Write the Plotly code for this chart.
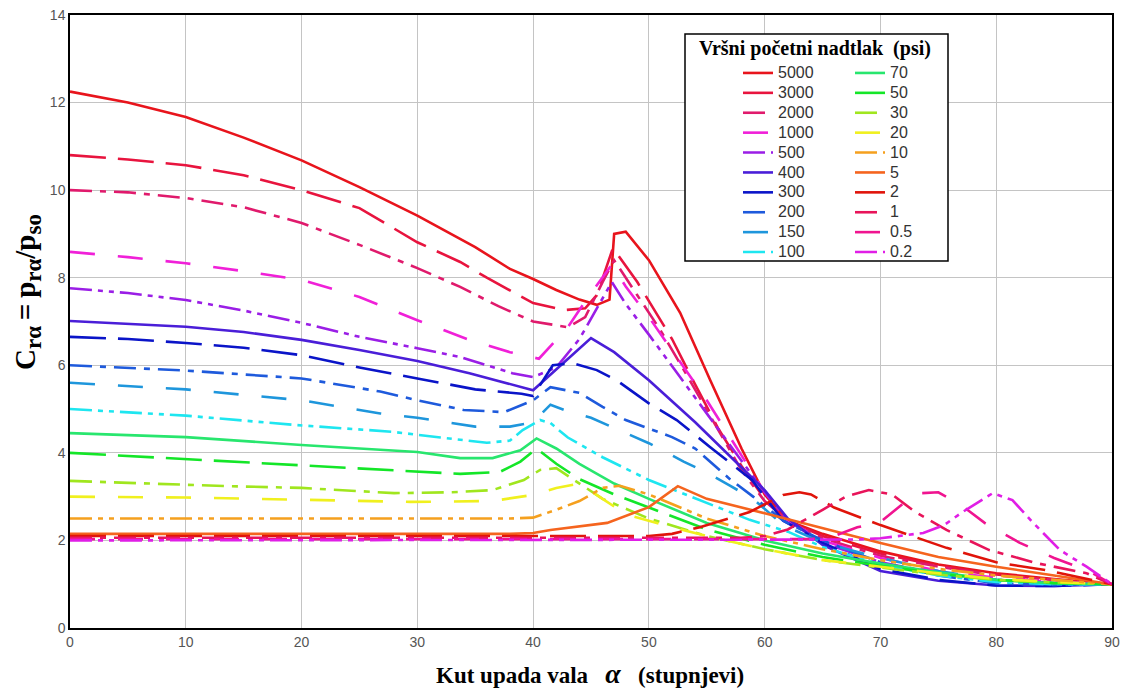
import plotly.graph_objects as go

# ---------------- data ----------------
LABELS = ["5000", "3000", "2000", "1000", "500", "400", "300", "200", "150", "100",
          "70", "50", "30", "20", "10", "5", "2", "1", "0.5", "0.2"]

X_5000 = [0, 5, 10, 15, 20, 25, 30, 35, 38, 40, 42, 44, 45.5, 46.6, 47, 48, 50, 52.7, 55.3, 58, 60, 62, 65, 70, 75, 80, 85, 90]
Y_5000 = [12.25, 12.0, 11.67, 11.2, 10.68, 10.07, 9.42, 8.7, 8.2, 7.97, 7.72, 7.5, 7.38, 7.5, 9.0, 9.05, 8.4, 7.2, 5.66, 4.1, 3.05, 2.45, 2.15, 1.75, 1.45, 1.25, 1.12, 1.0]

X_3000 = [0, 5, 10, 15, 20, 25, 30, 33.7, 36, 40, 42.7, 44.5, 45.5, 46.5, 46.9, 49, 52, 53.8, 56, 58, 60, 62, 65, 70, 75, 80, 85, 90]
Y_3000 = [10.8, 10.7, 10.57, 10.34, 10.0, 9.59, 8.81, 8.36, 8.0, 7.42, 7.26, 7.3, 7.6, 8.4, 8.68, 7.9, 6.6, 5.66, 4.55, 3.7, 2.95, 2.45, 2.1, 1.7, 1.42, 1.22, 1.1, 1.0]

X_2000 = [0, 5, 10, 15, 20, 25, 30, 33.7, 37, 40, 43, 44.5, 46, 47, 49, 51, 53, 56, 58, 60, 62, 65, 70, 75, 80, 85, 90]
Y_2000 = [10.0, 9.95, 9.82, 9.61, 9.25, 8.75, 8.22, 7.79, 7.35, 7.0, 6.87, 7.1, 7.9, 8.4, 7.6, 6.8, 5.9, 4.5, 3.6, 2.9, 2.45, 2.05, 1.65, 1.4, 1.2, 1.1, 1.0]

X_1000 = [0, 5, 10, 15, 20, 25, 30, 34.5, 38, 40.5, 43, 44.6, 46.8, 48, 50, 55, 60, 62, 65, 70, 75, 80, 85, 90]
Y_1000 = [8.59, 8.47, 8.33, 8.15, 7.95, 7.56, 7.03, 6.58, 6.3, 6.15, 6.87, 7.5, 8.3, 7.8, 7.1, 5.2, 3.1, 2.45, 2.0, 1.6, 1.3, 1.15, 1.05, 1.0]

X_500 = [0, 5, 10, 15, 20, 25, 30, 33.7, 38.2, 40, 42, 44, 46.8, 48, 50, 55, 60, 62, 65, 70, 75, 80, 85, 90]
Y_500 = [7.76, 7.65, 7.49, 7.25, 6.97, 6.65, 6.39, 6.19, 5.82, 5.73, 5.95, 6.6, 7.9, 7.4, 6.7, 4.9, 3.1, 2.45, 1.95, 1.5, 1.25, 1.1, 1.03, 1.0]

X_400 = [0, 5, 10, 15, 20, 25, 30, 34.5, 38.9, 40, 42.9, 45, 47, 50, 54, 57.6, 60, 62, 65, 70, 75, 80, 85, 90]
Y_400 = [7.01, 6.95, 6.88, 6.76, 6.58, 6.35, 6.1, 5.82, 5.5, 5.43, 6.12, 6.62, 6.3, 5.66, 4.7, 3.77, 3.15, 2.5, 1.9, 1.3, 1.08, 0.97, 0.96, 1.0]

X_300 = [0, 5, 10, 15, 20, 25, 30, 35, 39, 40, 41.7, 43.4, 45.5, 47.2, 50, 52.4, 55.3, 58.9, 61.6, 65, 70, 75, 80, 85, 90]
Y_300 = [6.65, 6.6, 6.51, 6.4, 6.23, 5.95, 5.7, 5.45, 5.35, 5.3, 6.0, 6.05, 5.89, 5.66, 5.13, 4.75, 4.13, 3.38, 2.45, 1.95, 1.35, 1.1, 0.97, 0.96, 1.0]

X_200 = [0, 10, 20, 26.8, 30, 34, 37.5, 40, 41.5, 44, 46, 48, 52, 54, 57, 59, 61.6, 65, 70, 75, 80, 85, 90]
Y_200 = [6.0, 5.88, 5.7, 5.4, 5.2, 4.98, 4.93, 5.2, 5.5, 5.37, 5.05, 4.75, 4.36, 4.1, 3.4, 3.0, 2.45, 2.0, 1.5, 1.2, 1.02, 0.98, 1.0]

X_150 = [0, 10, 20, 26.8, 30, 35, 38, 40, 41.5, 43, 45, 48, 50, 53, 55, 57, 59, 61.6, 65, 70, 75, 80, 85, 90]
Y_150 = [5.6, 5.45, 5.2, 4.9, 4.8, 4.6, 4.6, 4.7, 5.1, 4.95, 4.8, 4.45, 4.22, 3.8, 3.55, 3.25, 2.95, 2.35, 1.95, 1.6, 1.3, 1.1, 1.0, 1.0]

X_100 = [0, 10, 19.3, 27.9, 32, 36, 38, 39.1, 40.6, 41.5, 43, 46, 50, 54.4, 58.7, 62, 65, 70, 75, 80, 85, 90]
Y_100 = [5.0, 4.85, 4.64, 4.48, 4.35, 4.23, 4.28, 4.52, 4.75, 4.68, 4.35, 3.9, 3.38, 2.92, 2.47, 2.2, 1.85, 1.45, 1.2, 1.05, 1.0, 1.0]

X_70 = [0, 10, 20, 30, 33.7, 36.5, 38.9, 40.3, 42, 44, 47, 50, 55, 60, 65, 70, 75, 80, 85, 90]
Y_70 = [4.45, 4.36, 4.18, 4.02, 3.88, 3.88, 4.06, 4.33, 4.1, 3.75, 3.3, 2.95, 2.4, 2.0, 1.7, 1.47, 1.27, 1.1, 1.02, 1.0]

X_50 = [0, 10, 20, 28, 33.7, 37.1, 38.9, 40.3, 42, 44, 47, 50, 55, 60, 65, 70, 75, 80, 85, 90]
Y_50 = [4.0, 3.86, 3.72, 3.61, 3.52, 3.56, 3.8, 4.1, 3.75, 3.4, 3.05, 2.75, 2.25, 1.9, 1.62, 1.42, 1.24, 1.1, 1.03, 1.0]

X_30 = [0, 13.5, 20, 28, 33, 36.5, 39.2, 40.6, 42, 44, 46, 50, 55, 60, 65, 70, 75, 80, 85, 90]
Y_30 = [3.36, 3.24, 3.2, 3.08, 3.1, 3.15, 3.38, 3.61, 3.65, 3.3, 2.95, 2.5, 2.1, 1.8, 1.55, 1.38, 1.22, 1.1, 1.04, 1.0]

X_20 = [0, 10, 20, 29.4, 36.5, 40, 42, 44, 46, 48, 52, 55, 60, 65, 70, 75, 80, 85, 90]
Y_20 = [3.0, 2.98, 2.93, 2.88, 2.9, 3.04, 3.2, 3.3, 2.95, 2.6, 2.3, 2.1, 1.8, 1.55, 1.4, 1.25, 1.12, 1.05, 1.0]

X_10 = [0, 38, 40, 42, 44, 46, 47.5, 50, 55, 60, 65, 70, 75, 80, 85, 90]
Y_10 = [2.5, 2.5, 2.52, 2.7, 2.9, 3.2, 3.25, 3.05, 2.5, 2.1, 1.8, 1.55, 1.35, 1.2, 1.1, 1.0]

X_5 = [0, 38, 40, 41.5, 46.4, 50, 52.5, 55, 60, 65, 70, 75, 80, 85, 90]
Y_5 = [2.15, 2.15, 2.17, 2.24, 2.4, 2.76, 3.24, 2.95, 2.62, 2.28, 1.94, 1.62, 1.4, 1.2, 1.0]

X_2 = [0, 50, 52, 54.4, 58.7, 61.6, 63, 64, 66, 70, 75.7, 80, 84.3, 90]
Y_2 = [2.1, 2.1, 2.15, 2.3, 2.65, 3.04, 3.1, 3.05, 2.75, 2.35, 1.83, 1.5, 1.32, 1.0]

X_1 = [0, 58, 60, 62, 65, 67, 69, 71, 73, 75.7, 79.4, 83.5, 87.8, 90]
Y_1 = [2.06, 2.06, 2.1, 2.25, 2.7, 3.0, 3.15, 3.05, 2.65, 2.24, 1.78, 1.48, 1.25, 1.0]

X_05 = [0, 64, 66, 68, 70, 72, 73.5, 75, 77, 79, 82, 85, 88, 90]
Y_05 = [2.03, 2.03, 2.1, 2.3, 2.42, 2.85, 3.08, 3.1, 2.8, 2.4, 1.95, 1.6, 1.3, 1.0]

X_02 = [0, 68, 70, 73.7, 75.5, 77.1, 79.7, 81.4, 83.2, 85.5, 87.8, 90]
Y_02 = [2.0, 2.02, 2.05, 2.17, 2.35, 2.65, 3.08, 2.92, 2.4, 1.78, 1.4, 1.0]

XS = [X_5000, X_3000, X_2000, X_1000, X_500, X_400, X_300, X_200, X_150, X_100,
      X_70, X_50, X_30, X_20, X_10, X_5, X_2, X_1, X_05, X_02]
YS = [Y_5000, Y_3000, Y_2000, Y_1000, Y_500, Y_400, Y_300, Y_200, Y_150, Y_100,
      Y_70, Y_50, Y_30, Y_20, Y_10, Y_5, Y_2, Y_1, Y_05, Y_02]

X_TICKS = [0, 10, 20, 30, 40, 50, 60, 70, 80, 90]
Y_TICKS = [0, 2, 4, 6, 8, 10, 12, 14]

# ---------------- styles ----------------
COLORS = ["#e8141c", "#e8143e", "#e01a6c", "#f020d8", "#9a1ee6",
          "#4a1ed8", "#0a14c8", "#1e5adc", "#1e96dc", "#1ee6f0",
          "#28e66e", "#14e628", "#a0e61e", "#f0f01e", "#f5a01e",
          "#f5641e", "#e0140a", "#e8145a", "#f01490", "#e01ee6"]
DASHES = ["solid", "36px,12px", "22px,8px,6px,8px", "25px,23px", "22px,6px,5px,6px,5px,6px"] * 4

W, H = 1128, 691
L, R, T, B = 70, 16, 15, 63
PW, PH = W - L - R, H - T - B


def px(xp):
    return (xp - L) / PW


def py(yp):
    return (H - B - yp) / PH


fig = go.Figure()
for i, (lab, xs, ys) in enumerate(zip(LABELS, XS, YS)):
    fig.add_trace(go.Scatter(
        x=xs, y=ys, mode="lines", name="<span style='font-size:16px'>%s</span>" % lab,
        line=dict(color=COLORS[i], width=2.6, dash=DASHES[i]),
        legend="legend" if i < 10 else "legend2",
        showlegend=True,
    ))

axis_common = dict(showline=True, linecolor="black", linewidth=1.5, mirror=True,
                   showgrid=True, gridcolor="#c4c4c4", gridwidth=1, zeroline=False,
                   automargin=False, ticks="",
                   tickfont=dict(family="Liberation Sans, Arial", size=14, color="#555555"))

legend_common = dict(xanchor="left", yanchor="top", bgcolor="rgba(0,0,0,0)", borderwidth=0,
                     font=dict(family="Liberation Sans, Arial", size=13, color="#333333"))

SUB = "<sub><span style='font-size:23px'>%s</span></sub>"
YTITLE = "<b>C" + SUB % "rα" + "\u2009=\u2009p" + SUB % "rα" + "/p" + SUB % "so" + "</b>"

fig.update_layout(
    width=W, height=H,
    margin=dict(l=L, r=R, t=T, b=B, autoexpand=False),
    paper_bgcolor="white", plot_bgcolor="white",
    xaxis=dict(range=[0, 90], tickvals=X_TICKS, **axis_common),
    yaxis=dict(range=[0, 14], tickvals=Y_TICKS, **axis_common),
    legend=dict(x=px(738), y=py(58), **legend_common),
    legend2=dict(x=px(850), y=py(58), **legend_common),
    shapes=[dict(type="rect", xref="paper", yref="paper",
                 x0=px(685), x1=px(948), y0=py(261), y1=py(34),
                 fillcolor="white", line=dict(color="black", width=1.5), layer="above")],
    annotations=[
        dict(text="<b>Vršni početni nadtlak\u00a0\u00a0(psi)</b>", xref="paper", yref="paper",
             x=px(815), y=py(48), xanchor="center", yanchor="middle", showarrow=False,
             font=dict(family="Liberation Serif, Times New Roman", size=20, color="black")),
        dict(text="<b>Kut upada vala\u00a0\u00a0\u00a0<i><span style='font-size:28px'>α</span></i>\u00a0\u00a0\u00a0(stupnjevi)</b>",
             xref="paper", yref="paper", x=px(590), y=py(674), xanchor="center", yanchor="middle",
             showarrow=False,
             font=dict(family="Liberation Serif, Times New Roman", size=23, color="black")),
        dict(text=YTITLE, xref="paper", yref="paper",
             x=px(27), y=py(292), xanchor="center", yanchor="middle", showarrow=False, textangle=-90,
             font=dict(family="Liberation Serif, Times New Roman", size=29, color="black")),
    ],
)

fig.write_html("out.html", config={"displayModeBar": False},
               post_script="document.body.style.margin='0px';")
